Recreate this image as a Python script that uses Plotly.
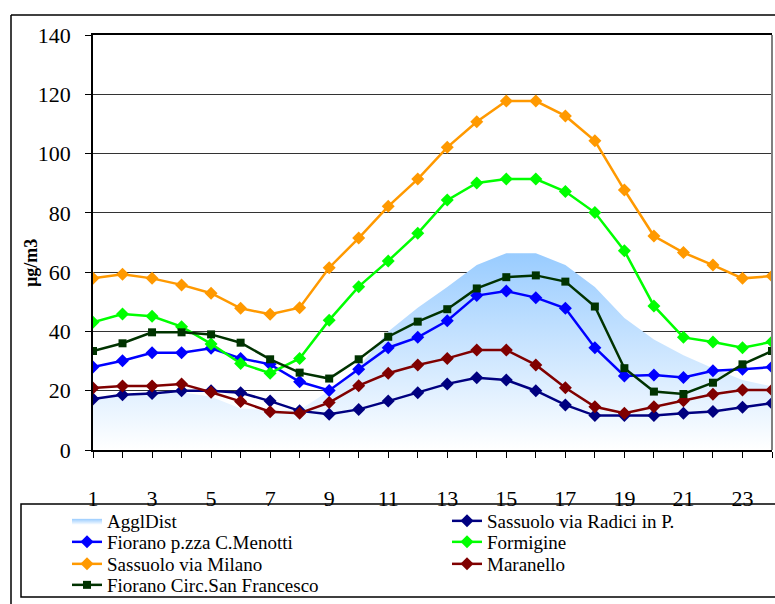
import plotly.graph_objects as go

hours = list(range(1, 25))

aggl_dist = [17.5, 18.5, 19.5, 19.5, 18, 14, 13.5, 13.5, 20, 28, 40, 48,
             55, 62.4, 66.4, 66.4, 62.4, 55, 44.5, 37.3, 32, 27.6, 23.6, 21.4]
sassuolo_radici = [17.2, 18.6, 19.1, 20.0, 20.0, 19.3, 16.5, 13.2, 12.1, 13.7, 16.5, 19.3,
                   22.3, 24.4, 23.6, 20.0, 15.2, 11.6, 11.6, 11.6, 12.4, 13.0, 14.4, 15.8]
fiorano_menotti = [28.0, 30.1, 32.8, 32.8, 34.3, 30.9, 28.9, 23.0, 20.1, 27.2, 34.5, 38.0,
                   43.6, 52.1, 53.6, 51.4, 47.8, 34.5, 25.0, 25.3, 24.5, 26.7, 27.2, 28.0]
formigine = [43.1, 45.9, 45.1, 41.6, 35.8, 29.2, 25.9, 30.9, 43.8, 55.1, 63.8, 73.1,
             84.3, 90.1, 91.4, 91.4, 87.2, 80.1, 67.2, 48.6, 38.0, 36.4, 34.5, 36.5]
sassuolo_milano = [57.9, 59.3, 57.9, 55.7, 52.9, 47.8, 45.8, 48.0, 61.5, 71.5, 82.2, 91.4,
                   102.1, 110.7, 117.7, 117.7, 112.7, 104.3, 87.7, 72.2, 66.6, 62.4, 57.9, 58.7]
maranello = [20.9, 21.6, 21.6, 22.3, 19.5, 16.4, 12.9, 12.4, 16.0, 21.7, 25.9, 28.7,
             30.9, 33.7, 33.7, 28.7, 21.0, 14.6, 12.4, 14.6, 16.6, 18.8, 20.2, 20.2]
fiorano_circ = [33.4, 36.0, 39.7, 39.7, 39.0, 36.2, 30.6, 26.1, 24.1, 30.6, 38.2, 43.3,
                47.5, 54.5, 58.3, 58.9, 56.8, 48.4, 27.6, 19.7, 18.9, 22.7, 28.9, 33.4]

tick_text = [str(h) if h % 2 == 1 else "" for h in hours]

W, H = 775, 604
ML, MR, MT, MB = 93, 3, 35, 154
PW, PH = W - ML - MR, H - MT - MB


def px(x):
    return (x - ML) / PW


def py(y):
    return (H - MB - y) / PH


FONT = "Liberation Serif"

fig = go.Figure()

fig.add_trace(go.Scatter(
    x=hours, y=aggl_dist, name="AgglDist", mode="lines",
    line=dict(width=0, color="#99ccff"), fill="tozeroy",
    fillgradient=dict(type="vertical", colorscale=[[0, "#ffffff"], [1, "#99ccff"]],
                      start=0, stop=max(aggl_dist)),
    legend="legend",
))

series = [
    ("Sassuolo via Radici in P.", sassuolo_radici, "#000080", "diamond", 10, "legend2"),
    ("Fiorano p.zza C.Menotti", fiorano_menotti, "#0000ff", "diamond", 10, "legend3"),
    ("Formigine", formigine, "#00ff00", "diamond", 10, "legend4"),
    ("Sassuolo via Milano", sassuolo_milano, "#ff9900", "diamond", 10, "legend5"),
    ("Maranello", maranello, "#800000", "diamond", 10, "legend6"),
    ("Fiorano Circ.San Francesco", fiorano_circ, "#003300", "square", 8, "legend7"),
]
for name, vals, col, sym, size, leg in series:
    fig.add_trace(go.Scatter(
        x=hours, y=vals, name=name, mode="lines+markers",
        line=dict(color=col, width=2.5),
        marker=dict(color=col, symbol=sym, size=size),
        legend=leg,
    ))

# legend layout: two columns, four rows
col_x = [67, 447]
row_y = [521, 542, 564, 585]
slots = {
    "legend": (0, 0), "legend2": (1, 0),
    "legend3": (0, 1), "legend4": (1, 1),
    "legend5": (0, 2), "legend6": (1, 2),
    "legend7": (0, 3),
}
legends = {}
for key, (c, r) in slots.items():
    legends[key] = dict(
        x=col_x[c] / W, y=1 - row_y[r] / H, xref="container", yref="container",
        xanchor="left", yanchor="middle", bgcolor="rgba(0,0,0,0)",
        font=dict(family=FONT, size=19, color="black"),
    )

shapes = [
    # outer frame
    dict(type="line", xref="paper", yref="paper", x0=px(11), x1=px(W + 2), y0=py(15), y1=py(15),
         line=dict(color="black", width=1.5)),
    dict(type="line", xref="paper", yref="paper", x0=px(11), x1=px(11), y0=py(15), y1=py(H + 2),
         line=dict(color="black", width=1.5)),
    # legend box
    dict(type="rect", xref="paper", yref="paper", x0=px(21), x1=px(W + 5), y0=py(504), y1=py(597),
         line=dict(color="black", width=1.5)),
    # right edge of plot area
    dict(type="line", xref="paper", yref="paper", x0=1, x1=1, y0=0, y1=1,
         line=dict(color="#808080", width=2)),
]

fig.update_layout(
    width=W, height=H,
    margin=dict(l=ML, r=MR, t=MT, b=MB, autoexpand=False),
    plot_bgcolor="white", paper_bgcolor="white",
    showlegend=True,
    shapes=shapes,
    xaxis=dict(
        range=[1, 24], tickvals=hours, ticktext=tick_text,
        showline=True, linecolor="black", linewidth=1.5, mirror=True,
        ticks="outside", ticklen=6, tickcolor="black",
        showgrid=False, zeroline=False,
        tickfont=dict(family=FONT, size=22, color="black"),
        ticklabelstandoff=22,
    ),
    yaxis=dict(
        range=[0, 140], dtick=20,
        showline=True, linecolor="black", linewidth=1.5,
        ticks="outside", ticklen=6, tickcolor="black",
        showgrid=True, gridcolor="#333333", gridwidth=1, zeroline=False,
        tickfont=dict(family=FONT, size=22, color="black"),
        ticklabelstandoff=10,
    ),
    annotations=[dict(
        text="<b>µg/m3</b>", textangle=-90, xref="paper", yref="paper",
        x=px(31), y=py(263), xanchor="center", yanchor="middle", showarrow=False,
        font=dict(family=FONT, size=18, color="black"),
    )],
    **legends,
)

fig.write_html("out.html", config={"displayModeBar": False},
               post_script="document.body.style.margin = '0';")
